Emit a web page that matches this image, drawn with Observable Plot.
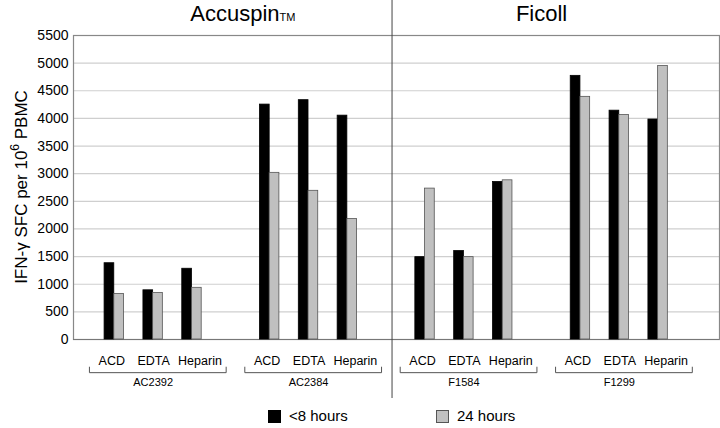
<!DOCTYPE html>
<html>
<head>
<meta charset="utf-8">
<script src="https://cdn.jsdelivr.net/npm/d3@7"></script>
<script src="https://cdn.jsdelivr.net/npm/@observablehq/plot@0.6"></script>
<style>
  html, body { margin: 0; padding: 0; background: #fff; }
  body { width: 720px; height: 428px; overflow: hidden; font-family: "Liberation Sans", Arial, sans-serif; }
  #legend { position: relative; height: 28px; font-size: 15px; color: #000; }
  .sw { position: absolute; top: 10px; width: 13px; height: 13px; box-sizing: border-box; }
  .lt { position: absolute; top: 7px; line-height: 18px; }
</style>
</head>
<body>
<div id="chart"></div>
<div id="legend"></div>
<script>
// ---- data ----
const panels = ["Accuspin", "Ficoll"];
const groups = ["AC2392", "AC2384", "F1584", "F1299"];
const groupPanel = ["Accuspin", "Accuspin", "Ficoll", "Ficoll"];
const anticoagulants = ["ACD", "EDTA", "Heparin"];
const series = ["<8 hours", "24 hours"];
const under8Hours = [1380, 890, 1280, 4250, 4330, 4050, 1490, 1600, 2850, 4770, 4140, 3980];
const after24Hours = [825, 840, 935, 3015, 2690, 2180, 2730, 1490, 2880, 4390, 4060, 4950];
const yTicks = [0, 500, 1000, 1500, 2000, 2500, 3000, 3500, 4000, 4500, 5000, 5500];
const seriesColors = ["#000000", "#c0c0c0"];

// ---- table ----
const slotsPerGroup = anticoagulants.length + 1;
const rows = [];
const slots = [];
groups.forEach((g, gi) => {
  anticoagulants.forEach((a, ai) => {
    const slot = gi * slotsPerGroup + ai + 1;
    const k = gi * anticoagulants.length + ai;
    slots.push({slot, label: a, ai});
    rows.push({group: g, anticoagulant: a, series: series[0], value: under8Hours[k], slot, side: 0});
    rows.push({group: g, anticoagulant: a, series: series[1], value: after24Hours[k], slot, side: 1});
  });
});
const half = 0.25; // bar width in slot units (style)
const groupInfo = groups.map((g, gi) => {
  const s = slots.filter((d, i) => Math.floor(i / anticoagulants.length) === gi).map(d => d.slot);
  return {group: g, first: d3.min(s), last: d3.max(s), mid: d3.mean(s)};
});
const panelInfo = panels.map(p => {
  const gs = groupInfo.filter((g, i) => groupPanel[i] === p);
  return {panel: p, mid: (d3.min(gs, g => g.first) + d3.max(gs, g => g.last)) / 2};
});
const dividerX = (groupInfo[1].last + groupInfo[2].first) / 2 + 0.15;

// bracket paths (in scale units)
const brLo = -600, brHi = -500;
const bracketPts = [];
groupInfo.forEach(g => {
  const a = g.first - 0.64, b = g.last + 0.88;
  bracketPts.push({group: g.group, x: a, y: brHi}, {group: g.group, x: a, y: brLo},
                  {group: g.group, x: b, y: brLo}, {group: g.group, x: b, y: brHi});
});

const labelShift = [-2.5, 0.5, 8]; // label nudges (style)
const font = "Liberation Sans, Arial, sans-serif";
const chart = Plot.plot({
  width: 720,
  height: 400,
  marginLeft: 73,
  marginRight: 1,
  marginTop: 35,
  marginBottom: 61,
  style: {fontFamily: font, fontSize: "13px", background: "#fff", color: "#000"},
  x: {domain: [-0.05, 16.58], axis: null},
  y: {domain: [0, 5500], axis: null},
  marks: [
    Plot.gridY(yTicks, {stroke: "#cfcfcf", strokeOpacity: 1, strokeWidth: 1.2}),
    Plot.frame({stroke: "#888", strokeWidth: 1.2}),
    Plot.ruleY([0], {stroke: "#777", strokeWidth: 1.2}),
    Plot.rectY(rows, {
      x1: d => d.slot - half + d.side * half,
      x2: d => d.slot + d.side * half,
      y: "value",
      fill: d => seriesColors[series.indexOf(d.series)],
      stroke: d => d.side === 0 ? "#000" : "#555",
      strokeWidth: 0.8
    }),
    Plot.axisY({ticks: yTicks, tickSize: 0, tickPadding: 5, tickFormat: d => String(d), fontSize: 14, label: null}),
    ...anticoagulants.map((a, ai) => Plot.text(slots.filter(d => d.ai === ai), {
      x: "slot", text: "label", frameAnchor: "bottom", dy: 21, dx: labelShift[ai],
      fontSize: 12.5, lineAnchor: "middle"
    })),
    Plot.line(bracketPts, {x: "x", y: "y", z: "group", stroke: "#555", strokeWidth: 1}),
    Plot.text(groupInfo, {x: "mid", text: "group", frameAnchor: "bottom", dy: 43, fontSize: 11, lineAnchor: "middle"}),
    Plot.ruleX([dividerX], {stroke: "#444", strokeWidth: 1, insetTop: -35, insetBottom: -59}),
    Plot.text(panelInfo, {x: "mid", text: "panel", frameAnchor: "top", dy: -22, fontSize: 22, lineAnchor: "middle"})
  ]
});
document.getElementById("chart").appendChild(chart);

// trademark on Accuspin title
const svg = d3.select(chart);
svg.selectAll("text").filter(function () { return this.textContent === "Accuspin"; }).each(function () {
  const t = d3.select(this);
  t.append("tspan").attr("font-size", 11).text("TM");
  t.attr("transform", (t.attr("transform") || "") + " translate(12,0)");
});

// y-axis title with superscript
const yl = svg.append("text")
  .attr("transform", "translate(23,187) rotate(-90)")
  .attr("text-anchor", "middle")
  .attr("dominant-baseline", "middle")
  .attr("font-size", 17)
  .attr("font-family", font)
  .attr("fill", "#000");
yl.append("tspan").text("IFN-γ SFC per 10");
yl.append("tspan").attr("font-size", 12).attr("dy", -7).text("6");
yl.append("tspan").attr("dy", 7).text(" PBMC");

// legend
const legend = d3.select("#legend");
const lx = [[268, 289], [436, 457]];
series.forEach((s, i) => {
  legend.append("div").attr("class", "sw")
    .style("left", lx[i][0] + "px")
    .style("background", seriesColors[i])
    .style("border", "1px solid " + (i === 0 ? "#000" : "#555"));
  legend.append("div").attr("class", "lt").style("left", lx[i][1] + "px").text(s);
});
</script>
</body>
</html>
